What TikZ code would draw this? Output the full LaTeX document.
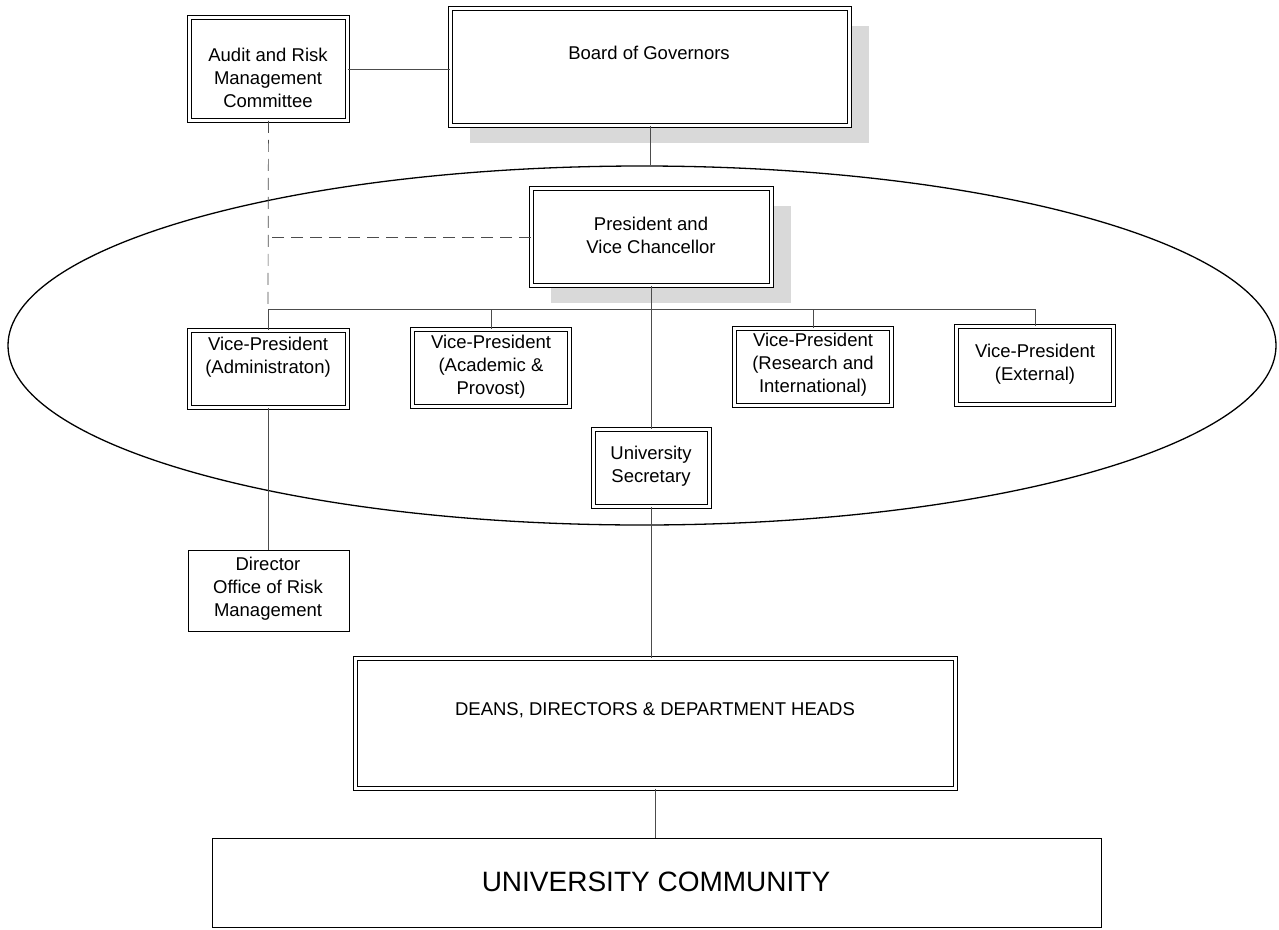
\documentclass[tikz,border=0pt]{standalone}
\usepackage{fontspec}
\setmainfont{Liberation Sans}
\usetikzlibrary{shapes.geometric,shadows}
\begin{document}
\begin{tikzpicture}[x=1pt,y=-1pt,
  dbox/.style={draw=black, fill=white, double=white, double distance=2.6pt, line width=0.9pt, inner sep=0pt, anchor=north west},
  sbox/.style={draw=black, fill=white, line width=0.9pt, inner sep=0pt, anchor=north west},
  txt/.style={align=center, font=\fontsize{18.5}{23}\selectfont, inner sep=0pt},
  bigtxt/.style={align=center, font=\fontsize{28}{32}\selectfont, inner sep=0pt},
  conn/.style={draw=black!70, line width=0.7pt},
  dconn/.style={conn, dash pattern=on 12pt off 7pt},
  shad/.style={drop shadow={shadow xshift=20pt, shadow yshift=-18pt, fill=black!15, opacity=1}}]
\useasboundingbox (0,0) rectangle (1279,929);
\fill[white] (0,0) rectangle (1279,929);

% ellipse (senior executive group)
\node[draw, ellipse, line width=1.3pt, minimum width=1268pt, minimum height=359pt, inner sep=0pt] (ell) at (642,345.5) {};

% boxes
\node[dbox, minimum width=158pt, minimum height=103pt] (audit) at (189,17) {};
\node[dbox, shad, minimum width=399pt, minimum height=117pt] (board) at (450,8) {};
\node[dbox, shad, minimum width=240pt, minimum height=97pt] (pres) at (531,188) {};
\node[dbox, minimum width=158pt, minimum height=77pt] (vpadm) at (189,330) {};
\node[dbox, minimum width=157pt, minimum height=77pt] (vpaca) at (412,329) {};
\node[dbox, minimum width=157pt, minimum height=77pt] (vpres) at (734,328) {};
\node[dbox, minimum width=157pt, minimum height=78pt] (vpext) at (956,326) {};
\node[dbox, minimum width=116pt, minimum height=77pt] (sec) at (593,429) {};
\node[sbox, minimum width=161pt, minimum height=81pt] (dir) at (187.5,549.5) {};
\node[dbox, minimum width=600pt, minimum height=130pt] (deans) at (355,658) {};
\node[sbox, line width=0.8pt, minimum width=889pt, minimum height=89pt] (uc) at (211.5,837.5) {};

% texts
\node[txt] (auditT) at (268,78) {Audit and Risk\\Management\\Committee};
\node[txt] (boardT) at (649,53) {Board of Governors};
\node[txt] (presT) at (651,235) {President and\\Vice Chancellor};
\node[txt] (vpadmT) at (268,357) {Vice-President\\(Administraton)};
\node[txt] (vpacaT) at (491,367) {Vice-President\\(Academic \&\\Provost)};
\node[txt] (vpresT) at (813,365) {Vice-President\\(Research and\\International)};
\node[txt] (vpextT) at (1035,364) {Vice-President\\(External)};
\node[txt] (secT) at (651,466) {University\\Secretary};
\node[txt] (dirT) at (268,589) {Director\\Office of Risk\\Management};
\node[txt] (deansT) at (655,710) {DEANS, DIRECTORS \& DEPARTMENT HEADS};
\node[bigtxt] (ucT) at (656,882) {UNIVERSITY COMMUNITY};

% connectors
\coordinate (busL) at (268,309);
\draw[conn] (audit.east) -- (audit.east -| board.west);
\draw[conn] (board.south) -- (board.south |- ell.north);
\draw[dconn] (audit.south) -- (busL);
\draw[dconn] (pres.west) -- (pres.west -| busL);
\draw[conn] (vpadm.north) -- (vpadm.north |- busL) -- (vpext.north |- busL) -- (vpext.north);
\draw[conn] (vpaca.north) -- (vpaca.north |- busL);
\draw[conn] (vpres.north) -- (vpres.north |- busL);
\draw[conn] (pres.south) -- (sec.north);
\draw[conn] (sec.south) -- (sec.south |- deans.north);
\draw[conn] (deans.south) -- (deans.south |- uc.north);
\draw[conn] (vpadm.south) -- (dir.north);
\end{tikzpicture}
\end{document}
